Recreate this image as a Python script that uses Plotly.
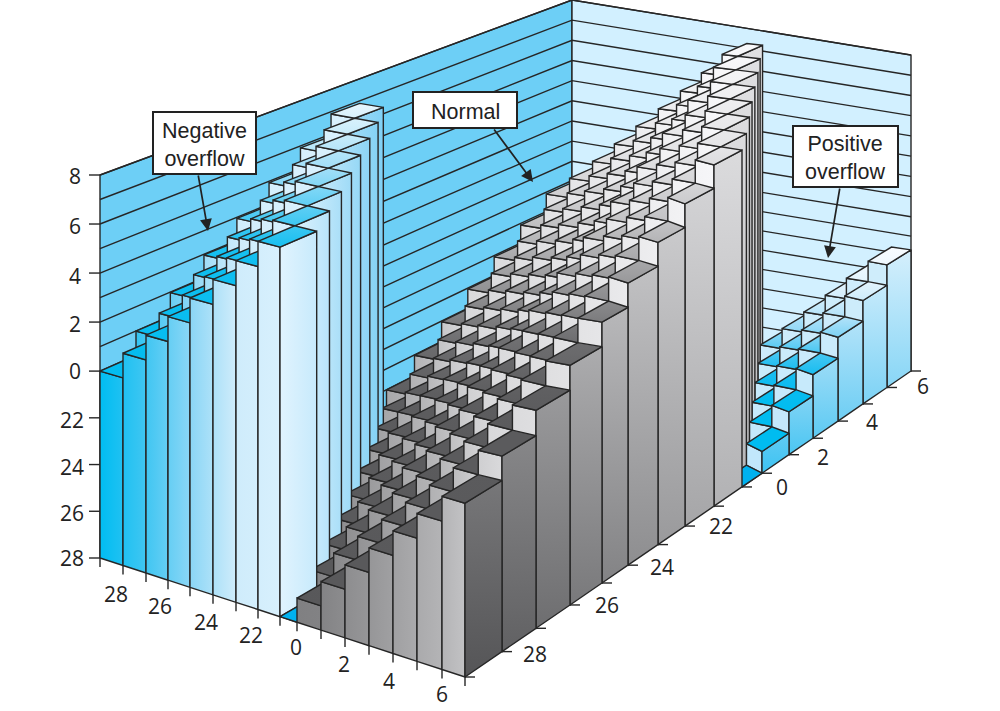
import numpy as np
import plotly.graph_objects as go

# ---------- data ----------
X_VALUES = [-8, -7, -6, -5, -4, -3, -2, -1, 0, 1, 2, 3, 4, 5, 6, 7]
Y_VALUES = [-8, -7, -6, -5, -4, -3, -2, -1, 0, 1, 2, 3, 4, 5, 6, 7]
# Bar level for each (row = y, column = x)
Z_ROWS = [
    [0, 1, 2, 3, 4, 5, 6, 7, -8, -7, -6, -5, -4, -3, -2, -1],
    [1, 2, 3, 4, 5, 6, 7, -8, -7, -6, -5, -4, -3, -2, -1, 0],
    [2, 3, 4, 5, 6, 7, -8, -7, -6, -5, -4, -3, -2, -1, 0, 1],
    [3, 4, 5, 6, 7, -8, -7, -6, -5, -4, -3, -2, -1, 0, 1, 2],
    [4, 5, 6, 7, -8, -7, -6, -5, -4, -3, -2, -1, 0, 1, 2, 3],
    [5, 6, 7, -8, -7, -6, -5, -4, -3, -2, -1, 0, 1, 2, 3, 4],
    [6, 7, -8, -7, -6, -5, -4, -3, -2, -1, 0, 1, 2, 3, 4, 5],
    [7, -8, -7, -6, -5, -4, -3, -2, -1, 0, 1, 2, 3, 4, 5, 6],
    [-8, -7, -6, -5, -4, -3, -2, -1, 0, 1, 2, 3, 4, 5, 6, 7],
    [-7, -6, -5, -4, -3, -2, -1, 0, 1, 2, 3, 4, 5, 6, 7, -8],
    [-6, -5, -4, -3, -2, -1, 0, 1, 2, 3, 4, 5, 6, 7, -8, -7],
    [-5, -4, -3, -2, -1, 0, 1, 2, 3, 4, 5, 6, 7, -8, -7, -6],
    [-4, -3, -2, -1, 0, 1, 2, 3, 4, 5, 6, 7, -8, -7, -6, -5],
    [-3, -2, -1, 0, 1, 2, 3, 4, 5, 6, 7, -8, -7, -6, -5, -4],
    [-2, -1, 0, 1, 2, 3, 4, 5, 6, 7, -8, -7, -6, -5, -4, -3],
    [-1, 0, 1, 2, 3, 4, 5, 6, 7, -8, -7, -6, -5, -4, -3, -2],
]
Z_TICKS = [8, 6, 4, 2, 0, -2, -4, -6, -8]
Z_TICK_LABELS = ["8", "6", "4", "2", "0", "22", "24", "26", "28"]
X_TICK_LABELS = ["28", "26", "24", "22", "0", "2", "4", "6"]
Y_TICK_LABELS = ["28", "26", "24", "22", "0", "2", "4", "6"]
CALLOUT_TEXTS = ["Negative<br>overflow", "Normal", "Positive<br>overflow"]

# ---------- scales (axis geometry) ----------
X_CELL_SIZES = [23, 23, 22, 22, 23, 23, 22, 22, 17, 24, 24, 24, 24, 24, 25, 23]
Y_CELL_SIZES = [37, 34, 34, 32, 26, 30, 27, 29, 28, 20, 27, 24, 25, 25, 24, 24]
Y_INNER_SIZES = [36, 34, 33, 32, 31, 30, 29, 27, 25, 26, 25, 24, 24, 24, 23, 23]
U_EDGES = np.cumsum([0] + X_CELL_SIZES) / sum(X_CELL_SIZES)
V_EDGES = np.cumsum([0] + Y_CELL_SIZES) / sum(Y_CELL_SIZES)
V_INNER = np.cumsum([0] + Y_INNER_SIZES) / sum(Y_INNER_SIZES)
U_SPLIT = 173 / 365   # left edge of column x=0 behind the front row
U_INNER_STEP = 24 / 365

# picture corners of the floor (left, front, right, back) and heights
CX = [100, 465, 911, 572]
CY = [558, 677, 371, 315]
WALL_H = [383, 407, 316, 315]
BAR_H = [383, 407, 331, 310]


def bil(c, u, v):
    return (1-u)*(1-v)*c[0] + u*(1-v)*c[1] + u*v*c[2] + (1-u)*v*c[3]


def zfrac(z):
    return float(np.interp(z, [-8, 0, 8], [0, 0.488, 1]))


def proj(u, v, z=-8, heights=BAR_H):
    uu = u + 0.09 * v * u * (1 - u)
    vv = v - 0.06 * (1 - u) * v * (1 - v)
    return bil(CX, uu, vv), bil(CY, uu, vv) - zfrac(z) * bil(heights, uu, vv)


def wall(u, v, z=-8):
    return proj(u, v, z, WALL_H)


def corner(ie, je, region, row, z=-8):
    """Picture position of grid corner (ie, je) of a cell in the given region."""
    v = V_INNER[je]
    u = U_EDGES[ie]
    if region != "neg" and ie <= 8 and row > 0:
        f = min(1.0, v / 0.62)
        u = (U_SPLIT - (8 - ie) * U_INNER_STEP) * (1 - f) + u * f
    w = float(np.clip((u - 0.93) / 0.07, 0, 1))
    return proj(u, V_INNER[je] * (1 - w) + V_EDGES[je] * w, z)


# ---------- shading ----------
def hexgray(g):
    g = int(round(float(g)))
    return f"rgb({g},{g},{g+2 if g < 250 else g})"


def mix(stops, p):
    ps = [s[0] for s in stops]
    r = np.interp(p, ps, [s[1][0] for s in stops])
    g = np.interp(p, ps, [s[1][1] for s in stops])
    b = np.interp(p, ps, [s[1][2] for s in stops])
    return f"rgb({int(r)},{int(g)},{int(b)})"


BL = lambda h: (int(h[1:3], 16), int(h[3:5], 16), int(h[5:7], 16))
NEG_TOP = [(95, BL("#f0f9fe")), (130, BL("#cdeefc")), (170, BL("#a0def8")), (215, BL("#4fcbf4")), (250, BL("#12bff0")), (400, BL("#00bcf1"))]
NEG_LEFT = [(100, BL("#00bdf2")), (145, BL("#3fc6f2")), (190, BL("#8ad6f6")), (235, BL("#cfecfb")), (280, BL("#d8f0fd"))]
NEG_RIGHT = [(280, BL("#e1f3fe")), (300, BL("#d9f1fd")), (320, BL("#c4e9fc")), (345, BL("#a6def8")), (365, BL("#92d7f6")), (385, BL("#7fd0f5"))]
POS_TOP = [(252, BL("#f8fcff")), (293, BL("#dcf1fd")), (327, BL("#a0dcf8")), (365, BL("#20bef0")), (400, BL("#00bcf0"))]
POS_LEFT = [(250, BL("#d8f0fc")), (480, BL("#bfe7fb"))]
POS_RIGHT = [(250, BL("#d5effc")), (300, BL("#c0e8fb")), (370, BL("#96daf7")), (420, BL("#70cff5")), (470, BL("#3cc3f2"))]
GRAY_TOP = ([50, 150, 220, 280, 340, 400, 620], [248, 228, 196, 154, 110, 92, 88])
GRAY_LEFT = ([235, 375, 419, 561, 687], [128, 184, 216, 232, 248])
GRAY_RIGHT = ([-22, 85, 178, 340, 600, 800], [85, 112, 132, 177, 218, 230])


def shade(region, face, sx, sy):
    if region == "neg":
        if face == "top":
            return mix(NEG_TOP, sy)
        return mix(NEG_LEFT, sx) if face == "left" else mix(NEG_RIGHT, sx)
    if region == "pos":
        if face == "top":
            return mix(POS_TOP, sy)
        return mix(POS_LEFT, sy) if face == "left" else mix(POS_RIGHT, sy)
    if face == "top":
        return hexgray(np.interp(sy, *GRAY_TOP))
    if face == "left":
        return hexgray(np.interp(sx - 0.13 * sy, *GRAY_LEFT))
    return hexgray(np.interp(sx - 0.76 * sy, *GRAY_RIGHT))


LINE = "#262626"
LW = 1.4
fig = go.Figure()


def poly(pts, fillcolor=None, grad=None):
    xs = [p[0] for p in pts] + [pts[0][0]]
    ys = [p[1] for p in pts] + [pts[0][1]]
    kw = {}
    if grad == "v":
        cx = sum(xs[:-1]) / len(pts)
        a, b = min(ys), max(ys)
        kw["fillgradient"] = dict(type="vertical", start=a, stop=b,
                                  colorscale=[[0, fillcolor(cx, a)], [1, fillcolor(cx, b)]])
    elif grad == "h":
        cy = sum(ys[:-1]) / len(pts)
        a, b = min(xs), max(xs)
        kw["fillgradient"] = dict(type="horizontal", start=a, stop=b,
                                  colorscale=[[0, fillcolor(a, cy)], [1, fillcolor(b, cy)]])
    else:
        kw["fillcolor"] = fillcolor
    fig.add_trace(go.Scatter(x=xs, y=ys, mode="lines", fill="toself",
                             line=dict(color=LINE, width=LW),
                             hoverinfo="skip", showlegend=False, **kw))


def polyline(pts):
    fig.add_trace(go.Scatter(x=[p[0] for p in pts], y=[p[1] for p in pts], mode="lines",
                             line=dict(color=LINE, width=LW),
                             hoverinfo="skip", showlegend=False))


# ---------- walls ----------
poly([wall(0, 0), wall(0, 1), wall(0, 1, 8), wall(0, 0, 8)], "#6dcff6")
poly([wall(0, 1), wall(1, 1), wall(1, 1, 8), wall(0, 1, 8)], "#d2f0ff")
for z in range(-8, 9):
    polyline([wall(0, 0, z), wall(0, 1, z), wall(1, 1, z)])

# ---------- bars, painted back to front ----------
nx, ny = len(X_VALUES), len(Y_VALUES)
for j in range(ny - 1, -1, -1):
    for i in range(nx):
        z = Z_ROWS[j][i]
        s = X_VALUES[i] + Y_VALUES[j]
        region = "neg" if s < -8 else ("pos" if s > 7 else "norm")
        c = lambda ie, je, zz=-8: corner(ie, je, region, j, zz)
        if j == 0 or Z_ROWS[j - 1][i] < z:
            poly([c(i, j), c(i + 1, j), c(i + 1, j, z), c(i, j, z)],
                 (lambda r: lambda a, b: shade(r, "left", a, b))(region), "h")
        if i == nx - 1 or Z_ROWS[j][i + 1] < z:
            poly([c(i + 1, j), c(i + 1, j + 1), c(i + 1, j + 1, z), c(i + 1, j, z)],
                 (lambda r: lambda a, b: shade(r, "right", a, b))(region),
                 "h" if region == "neg" else "v")
        top = [c(i, j, z), c(i + 1, j, z), c(i + 1, j + 1, z), c(i, j + 1, z)]
        if z == -8:
            poly(top, "#00b1ef")
        else:
            poly(top, (lambda r: lambda a, b: shade(r, "top", a, b))(region), "v")

# ---------- axis ticks ----------
for u in U_EDGES:
    px, py = proj(u, 0)
    polyline([(px, py), (px, py + 9)])
for v in V_EDGES:
    px, py = proj(1, v)
    polyline([(px, py), (px + 10, py)])
for zt in Z_TICKS:
    px, py = wall(0, 0, zt)
    polyline([(px - 11, py), (px, py)])

# ---------- axis labels ----------
X_LABEL_POS = [(116, 597), (160, 609), (206, 625), (251, 638), (296, 650), (344, 667), (389, 684), (442, 697)]
Y_LABEL_POS = [(535, 657), (607, 608), (662, 570), (721, 529), (782, 490), (823, 460), (872, 425), (923, 389)]
Z_LABEL_POS = [(75, 179), (75, 229), (75, 279), (75, 327), (75, 374), (72, 423), (72, 470), (72, 516), (72, 561)]
for lab, pos in ((X_TICK_LABELS, X_LABEL_POS), (Y_TICK_LABELS, Y_LABEL_POS), (Z_TICK_LABELS, Z_LABEL_POS)):
    fig.add_trace(go.Scatter(x=[p[0] for p in pos], y=[p[1] for p in pos], text=lab, mode="text",
                             textposition="middle center",
                             textfont=dict(family="Open Sans", size=21, color="#222222"),
                             hoverinfo="skip", showlegend=False))

# ---------- callouts ----------
BOXES = [(153, 112, 256, 174), (413, 92, 517, 128), (793, 126, 898, 187)]
ARROWS = [((198, 174), (208, 231)), ((493, 128), (533, 182)), ((840, 187), (828, 258))]
shapes = []
annotations = []
for (x0, y0, x1, y1), text, (a, b) in zip(BOXES, CALLOUT_TEXTS, ARROWS):
    annotations.append(dict(x=b[0], y=b[1], ax=a[0], ay=a[1], xref="x", yref="y", axref="x", ayref="y",
                            text="", showarrow=True, arrowhead=2, arrowsize=1.4, arrowwidth=1.7, arrowcolor="#222222"))
    shapes.append(dict(type="rect", x0=x0, y0=y0, x1=x1, y1=y1, xref="x", yref="y", layer="above",
                       fillcolor="white", line=dict(color="#222222", width=2)))
    annotations.append(dict(x=(x0 + x1) / 2, y=(y0 + y1) / 2 + 1.5, xref="x", yref="y", text=text, showarrow=False,
                            font=dict(family="Liberation Sans", size=21.5, color="#222222"), align="center"))

fig.update_layout(width=1000, height=711, margin=dict(l=0, r=0, t=0, b=0),
                  paper_bgcolor="white", plot_bgcolor="white", showlegend=False,
                  xaxis=dict(range=[0, 1000], visible=False, fixedrange=True),
                  yaxis=dict(range=[711, 0], visible=False, fixedrange=True),
                  shapes=shapes, annotations=annotations)
fig.write_html("out.html", config={"displayModeBar": False},
               post_script="document.body.style.margin='0';")
